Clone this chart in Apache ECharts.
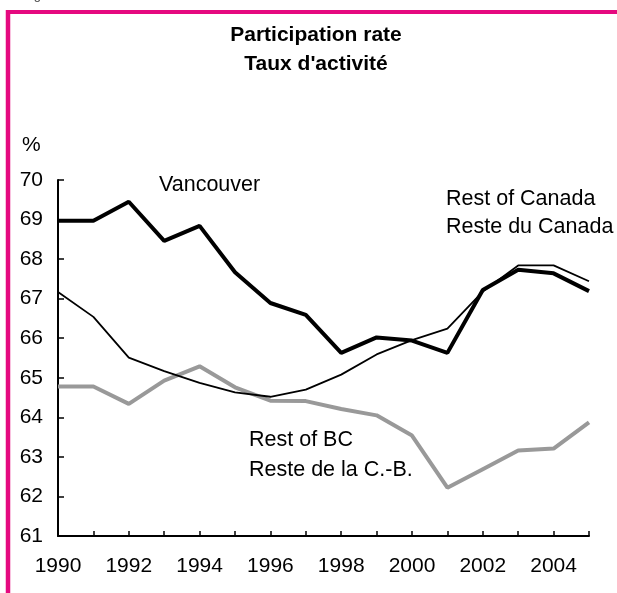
<!DOCTYPE html>
<html>
<head>
<meta charset="utf-8">
<script src="https://cdn.jsdelivr.net/npm/echarts@6/dist/echarts.min.js"></script>
<style>
  html, body { margin: 0; padding: 0; background: #fff; }
  #chart { width: 617px; height: 593px; }
</style>
</head>
<body>
<div id="chart"></div>
<script>
  const years = ["1990", "1991", "1992", "1993", "1994", "1995", "1996", "1997",
    "1998", "1999", "2000", "2001", "2002", "2003", "2004", "2005"]
  const vancouver = [68.97, 68.97, 69.45, 68.46, 68.84, 67.67, 66.89, 66.59,
    65.63, 66.02, 65.94, 65.63, 67.22, 67.73, 67.64, 67.19]
  const restOfCanada = [67.17, 66.54, 65.51, 65.17, 64.87, 64.63, 64.52, 64.7,
    65.08, 65.59, 65.95, 66.24, 67.18, 67.84, 67.84, 67.44]
  const restOfBC = [64.78, 64.78, 64.34, 64.93, 65.29, 64.76, 64.42, 64.41,
    64.21, 64.05, 63.54, 62.22, 62.69, 63.16, 63.21, 63.87]

  const font = "'Liberation Sans', Arial, sans-serif"
  const pink = "#e5097f"
  const lbl = "21.5px " + font

  const chart = echarts.init(document.getElementById("chart"))
  const option = {
    backgroundColor: "#fff",
    animation: false,
    grid: { left: 58, right: 28, top: 180, bottom: 57 },
    xAxis: {
      type: "category",
      data: years,
      boundaryGap: false,
      axisLine: { lineStyle: { color: "#000", width: 2 } },
      axisTick: { interval: 0, inside: true, length: 5, lineStyle: { color: "#000", width: 1.5 } },
      axisLabel: { interval: 1, color: "#000", fontSize: 21, fontFamily: font, margin: 20 },
      splitLine: { show: false },
    },
    yAxis: {
      type: "value",
      min: 61,
      max: 70,
      interval: 1,
      axisLine: { show: true, lineStyle: { color: "#000", width: 2 } },
      axisTick: { show: true, inside: true, length: 6, lineStyle: { color: "#000", width: 1.5 } },
      axisLabel: { color: "#000", fontSize: 21, fontFamily: font, margin: 15 },
      splitLine: { show: false },
    },
    series: [
      {
        name: "Rest of BC",
        type: "line",
        data: restOfBC,
        symbol: "none",
        lineStyle: { color: "#999", width: 4 },
        z: 2,
      },
      {
        name: "Rest of Canada",
        type: "line",
        data: restOfCanada,
        symbol: "none",
        lineStyle: { color: "#000", width: 1.8 },
        z: 3,
      },
      {
        name: "Vancouver",
        type: "line",
        data: vancouver,
        symbol: "none",
        lineStyle: { color: "#000", width: 4 },
        z: 4,
      },
    ],
    graphic: [
      // pink frame (top + left only)
      { type: "line", shape: { x1: 8, y1: 12, x2: 617, y2: 12 }, style: { stroke: pink, lineWidth: 4 } },
      { type: "line", shape: { x1: 8, y1: 10, x2: 8, y2: 593 }, style: { stroke: pink, lineWidth: 4.5 } },
      { type: "text", left: 23, top: -11, style: { text: "Figure 11", fill: "#444", font: "13px " + font } },
      // titles
      { type: "text", x: 316, y: 35, style: { text: "Participation rate", fill: "#000", font: "bold 21px " + font, align: "center", verticalAlign: "middle" } },
      { type: "text", x: 316, y: 64, style: { text: "Taux d'activité", fill: "#000", font: "bold 21px " + font, align: "center", verticalAlign: "middle" } },
      { type: "text", x: 22, y: 145, style: { text: "%", fill: "#000", font: "21px " + font, verticalAlign: "middle" } },
      // series labels
      { type: "text", x: 159, y: 185, style: { text: "Vancouver", fill: "#000", font: lbl, verticalAlign: "middle" } },
      { type: "text", x: 446, y: 199, style: { text: "Rest of Canada", fill: "#000", font: lbl, verticalAlign: "middle" } },
      { type: "text", x: 446, y: 227, style: { text: "Reste du Canada", fill: "#000", font: lbl, verticalAlign: "middle" } },
      { type: "text", x: 249, y: 440, style: { text: "Rest of BC", fill: "#000", font: lbl, verticalAlign: "middle" } },
      { type: "text", x: 249, y: 470, style: { text: "Reste de la C.-B.", fill: "#000", font: lbl, verticalAlign: "middle" } },
    ],
  }
  chart.setOption(option)
</script>
</body>
</html>
